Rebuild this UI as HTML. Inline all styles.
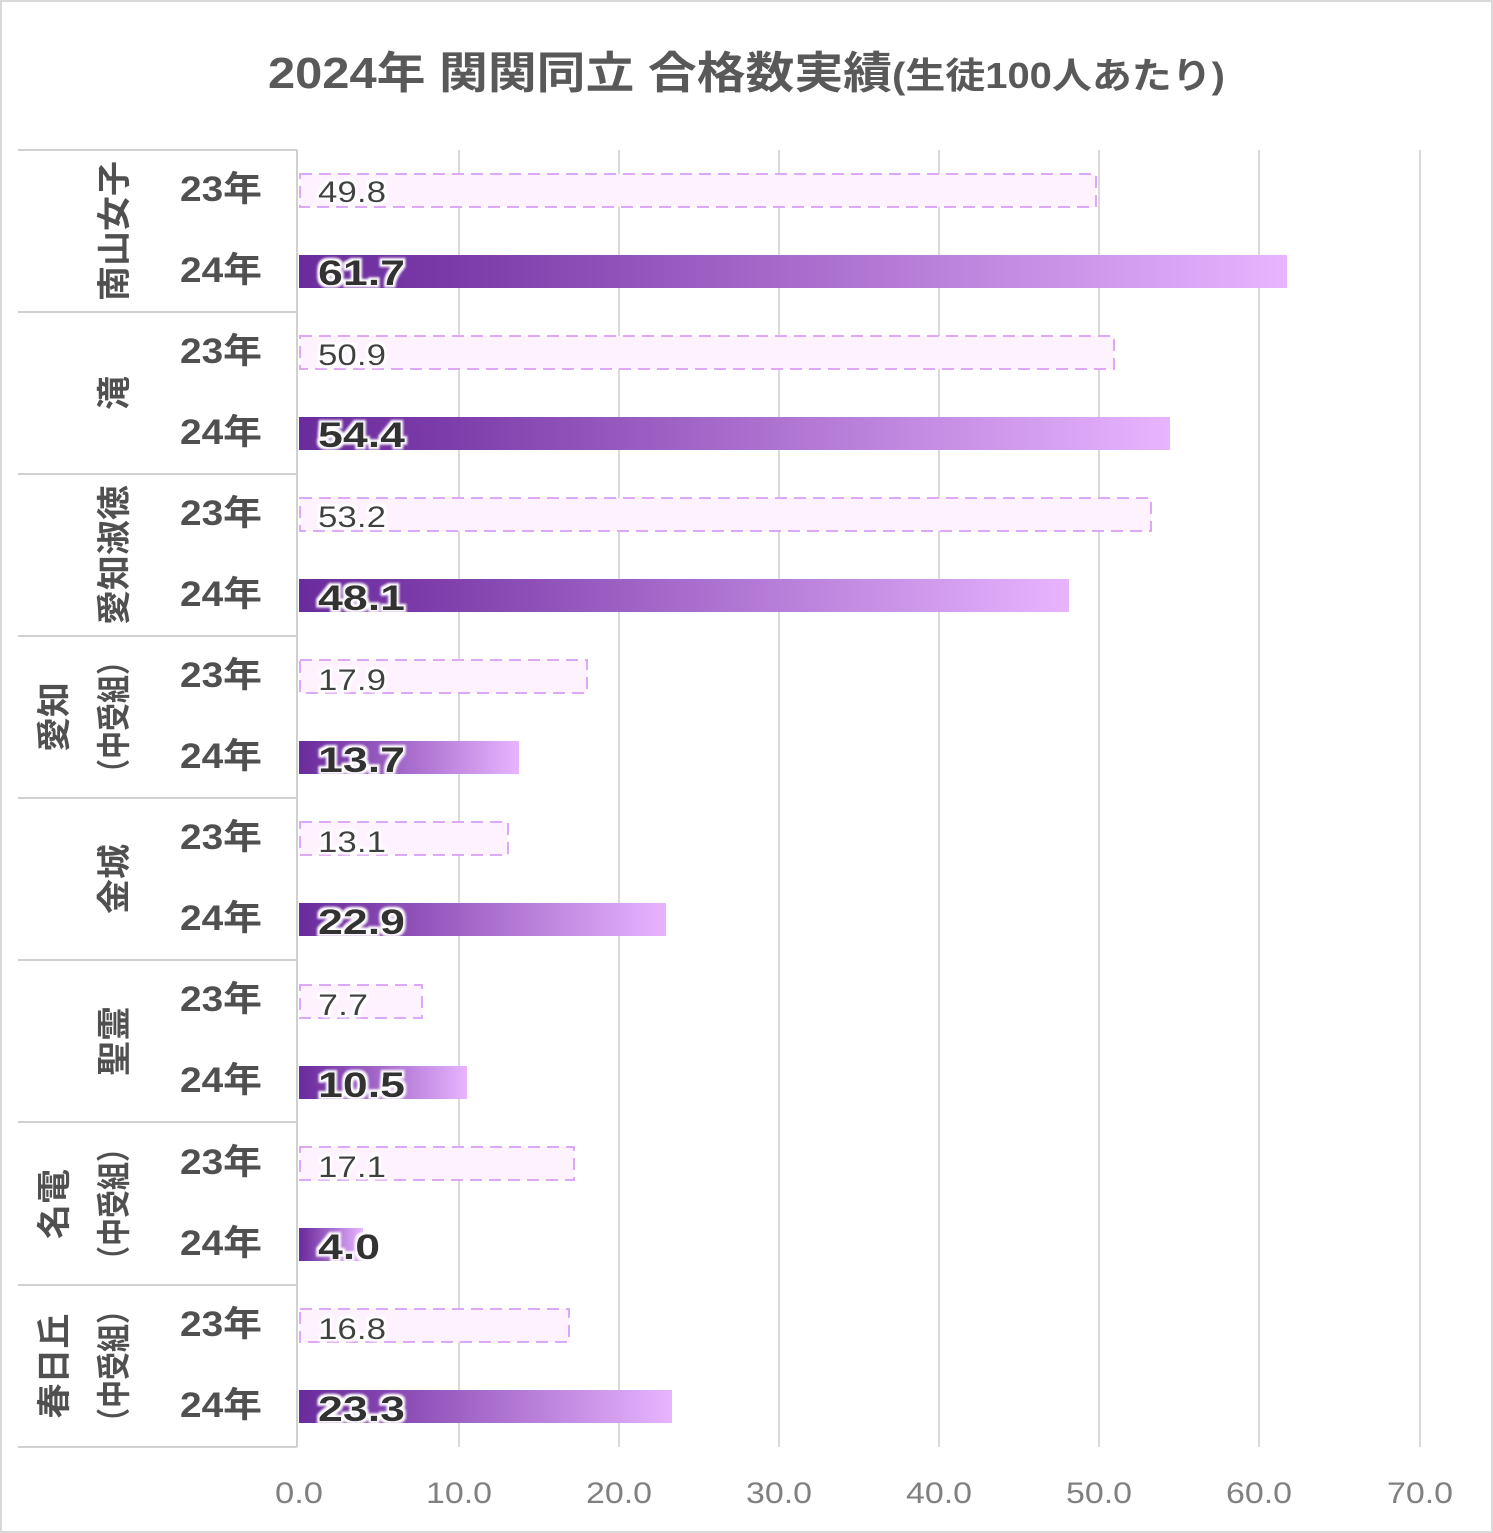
<!DOCTYPE html>
<html><head><meta charset="utf-8"><style>
html,body{margin:0;padding:0;background:#fff}
svg{display:block}
text{font-family:"Liberation Sans","Noto Sans CJK JP",sans-serif}
</style></head><body>
<svg width="1493" height="1533" viewBox="0 0 1493 1533" xmlns="http://www.w3.org/2000/svg">
<defs>
<linearGradient id="g" x1="0" y1="0" x2="1" y2="0">
<stop offset="0" stop-color="#6a2c9c"/><stop offset="0.15" stop-color="#7a3aa8"/><stop offset="1" stop-color="#e8b4ff"/>
</linearGradient>
<filter id="glow" x="-10%" y="-20%" width="120%" height="140%">
<feMorphology in="SourceAlpha" operator="dilate" radius="2.5" result="d"/>
<feGaussianBlur in="d" stdDeviation="1" result="b"/>
<feFlood flood-color="#fff"/><feComposite in2="b" operator="in" result="w"/>
<feMerge><feMergeNode in="w"/><feMergeNode in="SourceGraphic"/></feMerge>
</filter>
</defs>
<rect x="1" y="1" width="1491" height="1531" fill="#fff" stroke="#d9d9d9" stroke-width="2"/>
<text x="268" y="88" font-size="44" font-weight="bold" fill="#595959" textLength="957" lengthAdjust="spacingAndGlyphs">2024年 関関同立 合格数実績<tspan font-size="36">(生徒100人あたり)</tspan></text>
<g stroke="#d9d9d9" stroke-width="2">
<line x1="459" y1="150" x2="459" y2="1447"/><line x1="619" y1="150" x2="619" y2="1447"/>
<line x1="779" y1="150" x2="779" y2="1447"/><line x1="939" y1="150" x2="939" y2="1447"/>
<line x1="1099" y1="150" x2="1099" y2="1447"/><line x1="1259" y1="150" x2="1259" y2="1447"/>
<line x1="1420" y1="150" x2="1420" y2="1447"/>
</g>
<g stroke="#d0d0d0" stroke-width="2">
<line x1="297" y1="150" x2="297" y2="1447"/>
<line x1="18" y1="150" x2="297" y2="150"/><line x1="18" y1="312" x2="297" y2="312"/>
<line x1="18" y1="474" x2="297" y2="474"/><line x1="18" y1="636" x2="297" y2="636"/>
<line x1="18" y1="798" x2="297" y2="798"/><line x1="18" y1="960" x2="297" y2="960"/>
<line x1="18" y1="1122" x2="297" y2="1122"/><line x1="18" y1="1285" x2="297" y2="1285"/>
<line x1="18" y1="1447" x2="297" y2="1447"/>
</g>
<g font-size="30" fill="#808080" text-anchor="middle">
<text x="299" y="1503" textLength="48" lengthAdjust="spacingAndGlyphs">0.0</text>
<text x="459" y="1503" textLength="66" lengthAdjust="spacingAndGlyphs">10.0</text>
<text x="619" y="1503" textLength="66" lengthAdjust="spacingAndGlyphs">20.0</text>
<text x="779" y="1503" textLength="66" lengthAdjust="spacingAndGlyphs">30.0</text>
<text x="939" y="1503" textLength="66" lengthAdjust="spacingAndGlyphs">40.0</text>
<text x="1099" y="1503" textLength="66" lengthAdjust="spacingAndGlyphs">50.0</text>
<text x="1259" y="1503" textLength="66" lengthAdjust="spacingAndGlyphs">60.0</text>
<text x="1420" y="1503" textLength="66" lengthAdjust="spacingAndGlyphs">70.0</text>
</g>
<g font-size="34" font-weight="bold" fill="#505050" text-anchor="middle">
<text transform="translate(126,231) rotate(-90)" textLength="140" lengthAdjust="spacingAndGlyphs">南山女子</text>
<text transform="translate(126,393) rotate(-90)">滝</text>
<text transform="translate(126,555) rotate(-90)" textLength="140" lengthAdjust="spacingAndGlyphs">愛知淑徳</text>
<text transform="translate(66,717) rotate(-90)" textLength="70" lengthAdjust="spacingAndGlyphs">愛知</text>
<text transform="translate(126,717) rotate(-90)" textLength="140" lengthAdjust="spacingAndGlyphs">（中受組）</text>
<text transform="translate(126,879) rotate(-90)" textLength="70" lengthAdjust="spacingAndGlyphs">金城</text>
<text transform="translate(126,1041) rotate(-90)" textLength="70" lengthAdjust="spacingAndGlyphs">聖霊</text>
<text transform="translate(66,1204) rotate(-90)" textLength="70" lengthAdjust="spacingAndGlyphs">名電</text>
<text transform="translate(126,1204) rotate(-90)" textLength="140" lengthAdjust="spacingAndGlyphs">（中受組）</text>
<text transform="translate(66,1366) rotate(-90)" textLength="105" lengthAdjust="spacingAndGlyphs">春日丘</text>
<text transform="translate(126,1366) rotate(-90)" textLength="140" lengthAdjust="spacingAndGlyphs">（中受組）</text>
</g>
<g font-size="35" font-weight="bold" fill="#505050">
<text x="180" y="201" textLength="82" lengthAdjust="spacingAndGlyphs">23年</text><text x="180" y="282" textLength="82" lengthAdjust="spacingAndGlyphs">24年</text>
<text x="180" y="363" textLength="82" lengthAdjust="spacingAndGlyphs">23年</text><text x="180" y="444" textLength="82" lengthAdjust="spacingAndGlyphs">24年</text>
<text x="180" y="525" textLength="82" lengthAdjust="spacingAndGlyphs">23年</text><text x="180" y="606" textLength="82" lengthAdjust="spacingAndGlyphs">24年</text>
<text x="180" y="687" textLength="82" lengthAdjust="spacingAndGlyphs">23年</text><text x="180" y="768" textLength="82" lengthAdjust="spacingAndGlyphs">24年</text>
<text x="180" y="849" textLength="82" lengthAdjust="spacingAndGlyphs">23年</text><text x="180" y="930" textLength="82" lengthAdjust="spacingAndGlyphs">24年</text>
<text x="180" y="1011" textLength="82" lengthAdjust="spacingAndGlyphs">23年</text><text x="180" y="1092" textLength="82" lengthAdjust="spacingAndGlyphs">24年</text>
<text x="180" y="1174" textLength="82" lengthAdjust="spacingAndGlyphs">23年</text><text x="180" y="1255" textLength="82" lengthAdjust="spacingAndGlyphs">24年</text>
<text x="180" y="1336" textLength="82" lengthAdjust="spacingAndGlyphs">23年</text><text x="180" y="1417" textLength="82" lengthAdjust="spacingAndGlyphs">24年</text>
</g>
<g fill="#fdf2fd" stroke="#dda8f5" stroke-width="2" stroke-dasharray="12,7">
<rect x="300" y="174" width="796" height="33"/>
<rect x="300" y="336" width="814" height="33"/>
<rect x="300" y="498" width="851" height="33"/>
<rect x="300" y="660" width="287" height="33"/>
<rect x="300" y="822" width="208" height="33"/>
<rect x="300" y="985" width="122" height="33"/>
<rect x="300" y="1147" width="274" height="33"/>
<rect x="300" y="1309" width="269" height="33"/>
</g>
<g fill="url(#g)">
<rect x="299" y="255" width="988" height="33"/>
<rect x="299" y="417" width="871" height="33"/>
<rect x="299" y="579" width="770" height="33"/>
<rect x="299" y="741" width="220" height="33"/>
<rect x="299" y="903" width="367" height="33"/>
<rect x="299" y="1066" width="168" height="33"/>
<rect x="299" y="1228" width="64" height="33"/>
<rect x="299" y="1390" width="373" height="33"/>
</g>
<g font-size="30" fill="#404040" filter="url(#glow)">
<text x="318" y="202" textLength="68" lengthAdjust="spacingAndGlyphs">49.8</text>
<text x="318" y="365" textLength="68" lengthAdjust="spacingAndGlyphs">50.9</text>
<text x="318" y="527" textLength="68" lengthAdjust="spacingAndGlyphs">53.2</text>
<text x="318" y="690" textLength="68" lengthAdjust="spacingAndGlyphs">17.9</text>
<text x="318" y="852" textLength="68" lengthAdjust="spacingAndGlyphs">13.1</text>
<text x="318" y="1015" textLength="50" lengthAdjust="spacingAndGlyphs">7.7</text>
<text x="318" y="1177" textLength="68" lengthAdjust="spacingAndGlyphs">17.1</text>
<text x="318" y="1339" textLength="68" lengthAdjust="spacingAndGlyphs">16.8</text>
</g>
<g font-size="35" font-weight="bold" fill="#333" filter="url(#glow)">
<text x="318" y="285" textLength="87" lengthAdjust="spacingAndGlyphs">61.7</text>
<text x="318" y="447" textLength="87" lengthAdjust="spacingAndGlyphs">54.4</text>
<text x="318" y="610" textLength="87" lengthAdjust="spacingAndGlyphs">48.1</text>
<text x="318" y="772" textLength="87" lengthAdjust="spacingAndGlyphs">13.7</text>
<text x="318" y="934" textLength="87" lengthAdjust="spacingAndGlyphs">22.9</text>
<text x="318" y="1097" textLength="87" lengthAdjust="spacingAndGlyphs">10.5</text>
<text x="318" y="1259" textLength="62" lengthAdjust="spacingAndGlyphs">4.0</text>
<text x="318" y="1421" textLength="87" lengthAdjust="spacingAndGlyphs">23.3</text>
</g>
</svg>
</body></html>
